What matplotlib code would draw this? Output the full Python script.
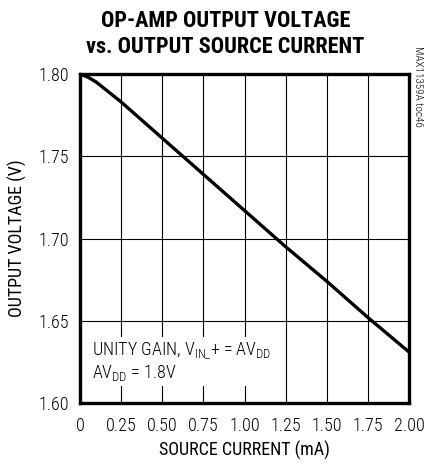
import numpy as np
import matplotlib
matplotlib.use('Agg')
import matplotlib.pyplot as plt
from matplotlib import font_manager as fm

# pick a narrow sans face that is installed
narrow = 'DejaVu Sans'
for fam in ['Roboto Condensed', 'Archivo Narrow', 'Asap Condensed', 'Sofia Sans Condensed']:
    try:
        fm.findfont(fm.FontProperties(family=fam), fallback_to_default=False)
        narrow = fam
        break
    except ValueError:
        pass

plt.rcParams['font.family'] = [narrow, 'DejaVu Sans']
plt.rcParams['font.weight'] = 'light'
plt.rcParams['mathtext.fontset'] = 'custom'
plt.rcParams['mathtext.rm'] = narrow + ':light'
plt.rcParams['mathtext.it'] = narrow + ':light'

# source current (mA) vs op-amp output voltage (V)
current = [0.0, 0.05, 0.10, 0.15, 0.25, 0.50, 0.75, 1.00, 1.25, 1.50, 1.75, 2.00]
voltage = [1.800, 1.798, 1.795, 1.791, 1.783, 1.761, 1.739, 1.717, 1.695, 1.674, 1.652, 1.631]

xticks = [0, 0.25, 0.5, 0.75, 1.0, 1.25, 1.5, 1.75, 2.0]
xlabels = ['0', '0.25', '0.50', '0.75', '1.00', '1.25', '1.50', '1.75', '2.00']
yticks = [1.60, 1.65, 1.70, 1.75, 1.80]
ylabels = ['1.60', '1.65', '1.70', '1.75', '1.80']

fig = plt.figure(figsize=(4.25, 4.66), dpi=100)
ax = fig.add_axes([80/425, 63/466, 329/425, 329/466])

ax.plot(current, voltage, color='black', lw=2.4, zorder=3)

ax.set_xlim(0, 2.0)
ax.set_ylim(1.60, 1.80)
ax.set_xticks(xticks)
ax.set_xticklabels(xlabels)
ax.set_yticks(yticks)
ax.set_yticklabels(ylabels)
ax.tick_params(length=0, labelsize=13, pad=10)
ax.tick_params(axis='y', pad=8)
ax.grid(True, color='black', lw=0.8)
for s in ax.spines.values():
    s.set_linewidth(2.4)

ax.set_xlabel('SOURCE CURRENT (mA)', fontsize=13, labelpad=4)
ax.set_ylabel('OUTPUT VOLTAGE (V)', fontsize=13, labelpad=8)

fig.text(0.5 + 0.03, 0.978, 'OP-AMP OUTPUT VOLTAGE\nvs. OUTPUT SOURCE CURRENT',
         ha='center', va='top', fontsize=16, fontweight=900, linespacing=1.2)

ax.text(0.075, 1.625, r'UNITY GAIN, V$_{\mathrm{IN\_}}$+ = AV$_{\mathrm{DD}}$' + '\n' +
        r'AV$_{\mathrm{DD}}$ = 1.8V',
        fontsize=13, ha='left', va='center', linespacing=1.0,
        bbox=dict(facecolor='white', edgecolor='none', pad=2), zorder=4)

fig.text(418/425, 1 - 46/466, 'MAX11359A toc46', rotation=270, ha='center', va='top',
         fontsize=8)

fig.savefig('out.png', dpi=100)
